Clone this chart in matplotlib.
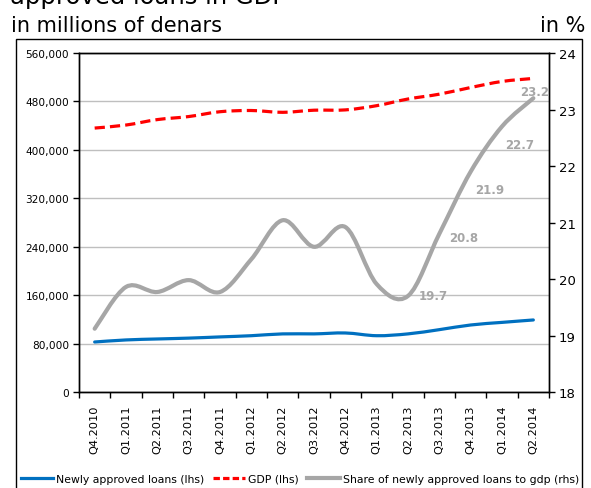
import numpy as np
import matplotlib
matplotlib.use("Agg")
import matplotlib.pyplot as plt
from matplotlib.path import Path
from matplotlib.patches import PathPatch, Rectangle
from matplotlib.lines import Line2D
from matplotlib.ticker import FuncFormatter

plt.rcParams['font.family'] = ['DejaVu Sans']

quarters = ["Q4.2010", "Q1.2011", "Q2.2011", "Q3.2011", "Q4.2011", "Q1.2012", "Q2.2012",
            "Q3.2012", "Q4.2012", "Q1.2013", "Q2.2013", "Q3.2013", "Q4.2013", "Q1.2014", "Q2.2014"]
new_loans = [82600, 86000, 87600, 89000, 91000, 93000, 96000,
             96000, 97500, 93000, 96000, 103000, 110700, 115000, 119000]
gdp = [436000, 441000, 450000, 455000, 463000, 465000, 462000,
       465500, 466000, 473000, 484000, 492000, 503000, 513000, 518000]
share = [19.12, 19.86, 19.77, 19.98, 19.77, 20.35, 21.04,
         20.57, 20.92, 19.91, 19.7, 20.8, 21.9, 22.7, 23.2]
labelled = {10: "19.7", 11: "20.8", 12: "21.9", 13: "22.7", 14: "23.2"}
label_offsets = {10: (25, 0), 11: (24, -4), 12: (19, -18), 13: (18, -18), 14: (1, 7)}

BLUE = "#0070C0"
RED = "#FF0000"
GREY = "#A6A6A6"


def smooth_path(xs, ys):
    # excel style smoothed line: bezier segments with catmull-rom tangents
    pts = np.column_stack([xs, ys]).astype(float)
    n = len(pts)
    verts = [pts[0]]
    codes = [Path.MOVETO]
    for i in range(n - 1):
        p0 = pts[i - 1] if i > 0 else pts[i]
        p1 = pts[i]
        p2 = pts[i + 1]
        p3 = pts[i + 2] if i + 2 < n else pts[i + 1]
        c1 = p1 + (p2 - p0) / 6.0
        c2 = p2 - (p3 - p1) / 6.0
        verts += [c1, c2, p2]
        codes += [Path.CURVE4] * 3
    return Path(verts, codes)


fig = plt.figure(figsize=(5.91, 4.89), dpi=100)
W, H = 591, 489
ax = fig.add_axes([79 / W, 1 - 393 / H, (549 - 79) / W, (393 - 54) / H])
ax2 = ax.twinx()

x = np.arange(len(quarters))

ax.add_patch(PathPatch(smooth_path(x, gdp), fill=False, edgecolor=RED, lw=2.3,
                       linestyle=(0, (3.2, 1.6)), capstyle='butt', zorder=3))
ax.add_patch(PathPatch(smooth_path(x, new_loans), fill=False, edgecolor=BLUE, lw=2.3,
                       capstyle='round', zorder=3))
ax2.add_patch(PathPatch(smooth_path(x, share), fill=False, edgecolor=GREY, lw=3.0,
                        capstyle='round', zorder=3))

for i, txt in labelled.items():
    ax2.annotate(txt, (x[i], share[i]), xytext=label_offsets[i], textcoords='offset pixels',
                 ha='center', va='center', color=GREY, fontsize=8.5, fontweight='bold')

ax.set_xlim(-0.5, len(quarters) - 0.5)
ax.set_ylim(0, 560000)
ax.set_yticks(np.arange(0, 560001, 80000))
ax.yaxis.set_major_formatter(FuncFormatter(lambda v, p: f"{int(v):,}"))
ax.grid(axis='y', color='#BFBFBF', lw=1)
ax.set_axisbelow(True)
ax2.set_ylim(18, 24)
ax2.set_yticks(np.arange(18, 25, 1))

ax.set_xticks(x)
ax.set_xticklabels(quarters, rotation=90, fontsize=8.2)
ax.set_xticks(np.arange(-0.5, len(quarters), 1), minor=True)
ax.tick_params(axis='x', which='major', length=0, pad=9)
ax.tick_params(axis='x', which='minor', length=4, width=1)
ax.tick_params(axis='y', length=4, width=1, labelsize=7.6, pad=3)
ax2.tick_params(axis='y', length=4, width=1, labelsize=9.5, pad=3)

for a in (ax, ax2):
    for s in a.spines.values():
        s.set_color('black')
        s.set_linewidth(1)

# outer chart border
fig.patches.append(Rectangle((16 / W, -0.05), (582 - 16) / W, 1.05 - 40 / H,
                             transform=fig.transFigure, fill=False, edgecolor='black', lw=1))

fig.text(10 / W, 1 - 4 / H, "approved loans in GDP", fontsize=17.5, va='baseline', ha='left')
fig.text(11 / W, 1 - 32 / H, "in millions of denars", fontsize=15, va='baseline', ha='left')
fig.text(585 / W, 1 - 32 / H, "in %", fontsize=15, va='baseline', ha='right')

handles = [Line2D([], [], color=BLUE, lw=2.3),
           Line2D([], [], color=RED, lw=2.3, linestyle=(0, (2, 1))),
           Line2D([], [], color=GREY, lw=3.0)]
names = ["Newly approved loans (lhs)", "GDP (lhs)", "Share of newly approved loans to gdp (rhs)"]
fig.legend(handles, names, loc='center', bbox_to_anchor=(300 / W, 1 - 480 / H), ncol=3,
           frameon=False, fontsize=7.8, handlelength=3.0, handletextpad=0.3,
           columnspacing=0.75, borderaxespad=0, borderpad=0)

fig.savefig("out.png", dpi=100)
